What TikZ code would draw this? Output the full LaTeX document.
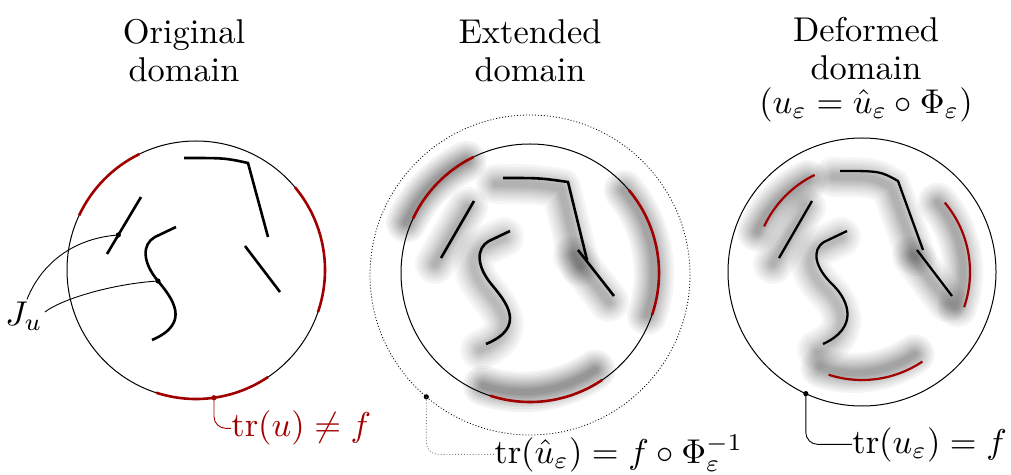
\documentclass[tikz,border=0pt]{standalone}
\usepackage{amsmath,amssymb}
\definecolor{tred}{RGB}{160,0,0}
\newcommand{\bigtxt}[1]{\scalebox{1.72}{#1}}
\newcommand{\glowit}[3]{%
  \foreach \gw in {20,17.5,15,13,11,9,7.5,6,4.5,3}{%
    \draw[line width=\gw pt, black, opacity=#1, line cap=round, line join=round, shift={#2}] #3;
  }}
\begin{document}
\begin{tikzpicture}[x=0.5pt,y=-0.5pt,
  crack/.style={line width=1.3pt},
  trace/.style={tred, line width=1.3pt},
  dom/.style={line width=0.5pt},
  lead/.style={line width=0.45pt, rounded corners=6pt},
  dotm/.style={circle, fill, inner sep=0pt, minimum size=2.6pt},
  title/.style={anchor=north, inner sep=0pt},
  lbl/.style={anchor=base west, inner sep=0pt}]
\useasboundingbox (0,0) rectangle (1011,475);

% ---------- titles
\node[title] (t1) at (184,14) {\bigtxt{\begin{tabular}{@{}c@{}}Original\\[-1pt]domain\end{tabular}}};
\node[title] (t2) at (530,14) {\bigtxt{\begin{tabular}{@{}c@{}}Extended\\[-1pt]domain\end{tabular}}};
\node[title] (t3) at (866,12) {\bigtxt{\begin{tabular}{@{}c@{}}Deformed\\[-1pt]domain\\[-2pt]$(u_\varepsilon=\hat u_\varepsilon\circ\Phi_\varepsilon)$\end{tabular}}};

% ================= LEFT: original domain
\draw[dom] (196,270) circle[radius=129];
\draw[trace] ([shift={(196,270)}]-116:129) arc[start angle=-116,end angle=-155,radius=129];
\draw[trace] ([shift={(196,270)}]19:129) arc[start angle=19,end angle=-40,radius=129];
\draw[trace] ([shift={(196,270)}]108:129) arc[start angle=108,end angle=56,radius=129];
\draw[crack] (141,197) -- (107,254);
\draw[crack] (184,158) .. controls (225,158) .. (248,163) -- (268,237);
\draw[crack] (245,246) -- (280,292);
\draw[crack] (176,227) -- (155,237) .. controls (142,244) and (142,262) .. (158,281) .. controls (172,298) and (192,323) .. (152,340);

\coordinate (q1) at (118.3,235);
\coordinate (q2) at (158,281);
\node[dotm] at (q1) {};
\node[dotm] at (q2) {};
\node[inner sep=1pt] (ju) at (24,316) {\bigtxt{$J_u$}};
\draw[lead] ([xshift=1.5pt]ju.north) .. controls (42,262) and (75,238) .. (q1);
\draw[lead] ([yshift=2pt]ju.east) .. controls (60,300) and (110,284) .. (q2);

\coordinate (p1) at ([shift={(196,270)}]82:129);
\node[dotm, tred] at (p1) {};
\node[lbl, text=tred] (l1) at (231,437) {\bigtxt{$\operatorname{tr}(u)\neq f$}};
\draw[lead, tred] (p1) |- ([yshift=4.3pt]l1.base west);

% ================= MIDDLE: extended domain
\glowit{0.035}{(-6,6)}{(474,201) -- (441,258)}
\glowit{0.035}{(-7,6)}{(503,178) .. controls (540,178) .. (568,182) -- (587,260)}
\glowit{0.035}{(-5,6)}{(578,250) -- (614,296)}
\glowit{0.03}{(-6,6)}{(510,231) -- (489,241) .. controls (476,248) and (476,266) .. (492,285) .. controls (506,302) and (527,327) .. (486,344)}
\glowit{0.05}{(-7,4)}{([shift={(530,273)}]-116:129) arc[start angle=-116,end angle=-155,radius=129]}
\glowit{0.045}{(-5,0)}{([shift={(530,273)}]19:129) arc[start angle=19,end angle=-40,radius=129]}
\glowit{0.05}{(-7,-10)}{([shift={(530,273)}]108:129) arc[start angle=108,end angle=56,radius=129]}

\draw[dom, densely dotted, line width=0.4pt] (530,275) circle[radius=160];
\draw[dom] (530,273) circle[radius=129];
\draw[trace] ([shift={(530,273)}]-116:129) arc[start angle=-116,end angle=-155,radius=129];
\draw[trace] ([shift={(530,273)}]19:129) arc[start angle=19,end angle=-40,radius=129];
\draw[trace] ([shift={(530,273)}]108:129) arc[start angle=108,end angle=56,radius=129];
\draw[crack] (474,201) -- (441,258);
\draw[crack] (503,178) .. controls (540,178) .. (568,182) -- (587,260);
\draw[crack] (578,250) -- (614,296);
\draw[crack] (510,231) -- (489,241) .. controls (476,248) and (476,266) .. (492,285) .. controls (506,302) and (527,327) .. (486,344);

\coordinate (p2) at ([shift={(530,275)}]130.4:160);
\node[dotm] at (p2) {};
\node[lbl] (l2) at (494,463) {\bigtxt{$\operatorname{tr}(\hat u_\varepsilon)=f\circ\Phi_\varepsilon^{-1}$}};
\draw[lead, gray, densely dotted] (p2) |- ([yshift=4.3pt]l2.base west);

% ================= RIGHT: deformed domain
\glowit{0.035}{(-6,6)}{(812,201) -- (779,258)}
\glowit{0.035}{(-7,6)}{(840,171) .. controls (880,171) .. (898,181) -- (923,250)}
\glowit{0.035}{(-5,6)}{(917,250) -- (952,296)}
\glowit{0.03}{(-6,6)}{(847,231) -- (824,242) .. controls (811,250) and (815,268) .. (833,285) .. controls (850,302) and (858,328) .. (823,344)}
\glowit{0.045}{(-7,5)}{([shift={(862,272)}]-116:108) arc[start angle=-116,end angle=-155,radius=108]}
\glowit{0.04}{(-7,0)}{([shift={(862,272)}]19:108) arc[start angle=19,end angle=-40,radius=108]}
\glowit{0.045}{(-8,-7)}{([shift={(862,272)}]108:108) arc[start angle=108,end angle=56,radius=108]}

\draw[dom] (862,272) circle[radius=134];
\draw[trace, line width=1.1pt] ([shift={(862,272)}]-116:108) arc[start angle=-116,end angle=-155,radius=108];
\draw[trace, line width=1.1pt] ([shift={(862,272)}]19:108) arc[start angle=19,end angle=-40,radius=108];
\draw[trace, line width=1.1pt] ([shift={(862,272)}]108:108) arc[start angle=108,end angle=56,radius=108];
\draw[crack, line width=1.15pt] (812,201) -- (779,258);
\draw[crack, line width=1.15pt] (840,171) .. controls (880,171) .. (898,181) -- (923,250);
\draw[crack, line width=1.15pt] (917,250) -- (952,296);
\draw[crack, line width=1.15pt] (847,231) -- (824,242) .. controls (811,250) and (815,268) .. (833,285) .. controls (850,302) and (858,328) .. (823,344);

\coordinate (p3) at ([shift={(862,272)}]114.8:134);
\node[dotm] at (p3) {};
\node[lbl] (l3) at (852,453) {\bigtxt{$\operatorname{tr}(u_\varepsilon)=f$}};
\draw[lead] (p3) |- ([yshift=4.3pt]l3.base west);
\end{tikzpicture}
\end{document}
